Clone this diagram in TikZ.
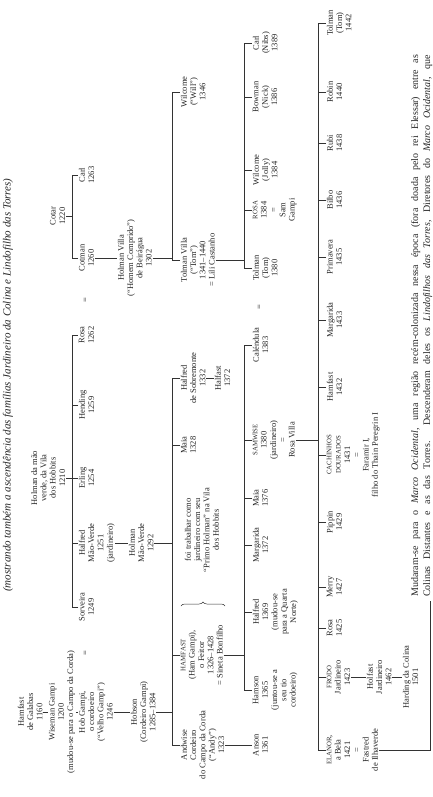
\documentclass[tikz,border=0pt]{standalone}
\usepackage{fontspec}
\setmainfont{Liberation Serif}
\usetikzlibrary{decorations.pathreplacing}
\newcommand{\SC}[1]{{\fontsize{6.8}{8}\selectfont #1}}
\begin{document}
\begin{tikzpicture}[x=1pt,y=-1pt,
  t/.style={rotate=90,align=center,inner sep=0.7pt,text=black!85,font=\fontsize{8.5}{9.3}\selectfont},
  tn/.style={t,anchor=north},
  ts/.style={t,anchor=south},
  ln/.style={line width=0.5pt,draw=black!80},
  bracestyle/.style={ln,decorate,decoration={brace,amplitude=4pt}}]
\useasboundingbox[fill=white] (0,0) rectangle (432,797);

\coordinate (b1) at (72,0);
\coordinate (b3) at (172,0);
\coordinate (b4) at (244,0);
\coordinate (b5) at (318,0);

% title
\node[t,font=\fontsize{11}{12}\selectfont\itshape] (title) at (8,385)
  {(mostrando também a ascendência das famílias Jardineiro da Colina e Lindofilho das Torres)};

% chain of the Gampis
\node[tn] (hamG) at (17,712) {Hamfast\\de Galabas\\1160};
\node[tn] (wise) at (48,712) {Wiseman Gampi\\1200\\(mudou-se para o Campo da Corda)};
\node[tn] (hob) at (78,712) {Hob Gampi,\\o cordoeiro\\(“Velho Gampi”)\\1246};
\node[tn] (hobson) at (130,712) {Hobson\\(Cordeiro Gampi)\\1285–1384};
\node[t] (eq1) at (86,653) {=};

% generation 0
\node[ts] (holman0) at (66,478) {Holman da mão\\verde, da Vila\\dos Hobbits\\1210};
\node[ts] (cotar) at (66,216) {Cotar\\1220};

% generation 1
\node[tn] (sorveira) at (78,607) {Sorveira\\1249};
\node[tn] (halfredMV) at (78,543) {Halfred\\Mão-Verde\\1251\\(jardineiro)};
\node[tn] (erling) at (78,478) {Erling\\1254};
\node[tn] (hending) at (78,405) {Hending\\1259};
\node[tn] (rosa0) at (78,335) {Rosa\\1262};
\node[t] (eq2) at (86,300) {=};
\node[tn] (cotman) at (78,258) {Cotman\\1260};
\node[tn] (carl0) at (78,175) {Carl\\1263};

% generation 2
\node[tn] (holmanMV) at (128,543) {Holman\\Mão-Verde\\1292};
\node[tn] (holmanV) at (117,258) {Holman Villa\\(“Homem Comprido”)\\de Beirágua\\1302};

% generation 3
\node[tn] (andwise) at (180,745) {Andwise\\Cordeiro\\do Campo da Corda\\(“Andy”)\\1323};
\node[tn] (hamfast) at (180,655) {\SC{HAMFAST}\\(Ham Gampi),\\o Feitor\\1326–1428\\= Sineta Bonfilho};
\node[tn] (note) at (184,530) {foi trabalhar como\\jardineiro com seu\\“Primo Holman” na Vila\\dos Hobbits};
\node[tn] (maia0) at (180,445) {Maia\\1328};
\node[tn] (halfredS) at (180,378) {Halfred\\de Sobremonte\\1332};
\node[tn] (halfast) at (214,378) {Halfast\\1372};
\node[tn] (tolmanV) at (180,260) {Tolman Villa\\(“Tom”)\\1341–1440\\= Lili Castanho};
\node[tn] (will) at (180,92) {Wilcome\\(“Will”)\\1346};

% generation 4
\node[tn] (anson) at (252,745) {Anson\\1361};
\node[tn] (hamson) at (252,690) {Hamson\\1365\\(juntou-se a\\seu tio\\cordoeiro)};
\node[tn] (halfred2) at (252,612) {Halfred\\1369\\(mudou-se\\para a Quarta\\Norte)};
\node[tn] (marg0) at (252,545) {Margarida\\1372};
\node[tn] (maia1) at (252,498) {Maia\\1376};
\node[tn] (sam) at (252,440) {\SC{SAMWISE}\\1380\\(jardineiro)\\=\\Rosa Villa};
\node[tn] (calen) at (252,345) {Caléndula\\1383};
\node[t] (eq3) at (260,307) {=};
\node[tn] (tolman1) at (252,268) {Tolman\\(Tom)\\1380};
\node[tn] (rosa1) at (252,210) {\SC{ROSA}\\1384\\=\\Sam\\Gampi};
\node[tn] (jolly) at (252,170) {Wilcome\\(Jolly)\\1384};
\node[tn] (nick) at (252,97) {Bowman\\(Nick)\\1386};
\node[tn] (nibs) at (252,43) {Carl\\(Nibs)\\1389};

% generation 5
\node[tn] (elanor) at (326,750) {\SC{ELANOR},\\a Bela\\1421\\=\\Fastred\\de Ilhaverde};
\node[tn] (frodo) at (326,677) {\SC{FRODO}\\Jardineiro\\1423};
\node[tn] (holfast) at (366,677) {Holfast\\Jardineiro\\1462};
\node[tn] (harding) at (402,677) {Harding da Colina\\1501};
\node[tn] (rosa2) at (326,628) {Rosa\\1425};
\node[tn] (merry) at (326,587) {Merry\\1427};
\node[tn] (pippin) at (326,522) {Pippin\\1429};
\node[tn] (cach) at (326,455) {\SC{CACHINHOS}\\\SC{DOURADOS}\\1431\\=\\Faramir I,\\filho do Thain Peregrin I};
\node[tn] (hamf2) at (326,387) {Hamfast\\1432};
\node[tn] (marg2) at (326,320) {Margarida\\1433};
\node[tn] (prim) at (326,257) {Primavera\\1435};
\node[tn] (bilbo) at (326,200) {Bilbo\\1436};
\node[tn] (rubi) at (326,143) {Rubi\\1438};
\node[tn] (robin) at (326,92) {Robin\\1440};
\node[tn] (tom2) at (326,23) {Tolman\\(Tom)\\1442};

% footnote
\node[rotate=90,anchor=north west,inner sep=0pt,align=left,text=black!85,
  font=\fontsize{10}{12}\selectfont] (foot) at (411,597)
  {\makebox[542pt][s]{Mudaram-se para o \textit{Marco Ocidental}, uma região recém-colonizada nessa época (fora doada pelo rei Elessar) entre as}\\
   \makebox[542pt][s]{Colinas Distantes e as das Torres. Descenderam deles os \textit{Lindofilhos das Torres}, Diretores do \textit{Marco Ocidental}, que}};
\coordinate (footend) at (430,601);

% ---------- connectors ----------
\draw[ln] (hamG.south) -- (wise.north);
\draw[ln] (wise.south) -- (hob.north);
\draw[ln] (hob.south) -- (hobson.north);

% children of Holman da mao verde
\draw[ln] (sorveira.north) -- (sorveira.north -| b1) -- (rosa0.north -| b1) -- (rosa0.north);
\foreach \n in {halfredMV,erling,hending} \draw[ln] (\n.north) -- (\n.north -| b1);
\draw[ln] (holman0.south) -- (holman0.south -| b1);
% children of Cotar
\draw[ln] (cotman.north) -- (cotman.north -| b1) -- (carl0.north -| b1) -- (carl0.north);
\draw[ln] (cotar.south) -- (cotar.south -| b1);

\draw[ln] (halfredMV.south) -- (holmanMV.north);
\draw[ln] (cotman.south) -- (holmanV.north);

% generation 3 bars
\draw[ln] (andwise.north) -- (andwise.north -| b3) -- (halfredS.north -| b3) -- (halfredS.north);
\foreach \n in {hamfast,maia0} \draw[ln] (\n.north) -- (\n.north -| b3);
\draw[ln] (hobson.south) -- (hobson.south -| b3);
\draw[ln] (holmanMV.south) -- (holmanMV.south -| b3);
\draw[ln] (halfredS.south) -- (halfast.north);
\draw[ln] (tolmanV.north) -- (tolmanV.north -| b3) -- (will.north -| b3) -- (will.north);
\draw[ln] (holmanV.south) -- (holmanV.south -| b3);
\coordinate (br1) at (181,606);
\coordinate (br2) at (225,606);
\draw[bracestyle] (br1) -- (br2);

% generation 4 bars
\draw[ln] (andwise.south) -- (anson.north);
\draw[ln] (hamson.north) -- (hamson.north -| b4) -- (calen.north -| b4) -- (calen.north);
\foreach \n in {halfred2,marg0,maia1,sam} \draw[ln] (\n.north) -- (\n.north -| b4);
\draw[ln] (hamfast.south) -- (hamfast.south -| b4);
\draw[ln] (tolman1.north) -- (tolman1.north -| b4) -- (nibs.north -| b4) -- (nibs.north);
\foreach \n in {rosa1,jolly,nick} \draw[ln] (\n.north) -- (\n.north -| b4);
\draw[ln] (tolmanV.south) -- (tolmanV.south -| b4);

% generation 5 bars
\draw[ln] (elanor.north) -- (elanor.north -| b5) -- (tom2.north -| b5) -- (tom2.north);
\foreach \n in {frodo,rosa2,merry,pippin,cach,hamf2,marg2,prim,bilbo,rubi,robin} \draw[ln] (\n.north) -- (\n.north -| b5);
\draw[ln] (sam.south) -- (sam.south -| b5);
\draw[ln] (frodo.south) -- (holfast.north);
\draw[ln] (holfast.south) -- (harding.north);
\draw[ln] (elanor.south) -| (footend);
\end{tikzpicture}
\end{document}
